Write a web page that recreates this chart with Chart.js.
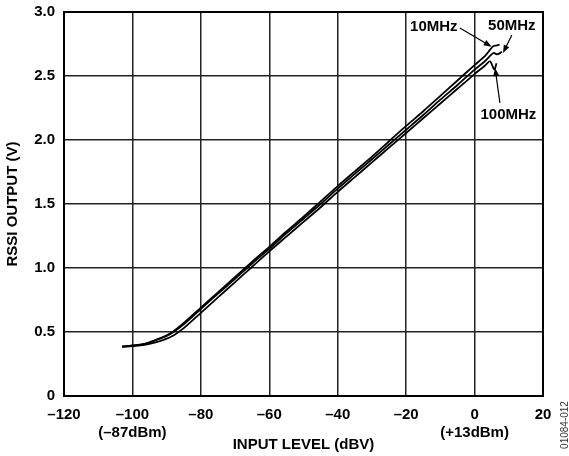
<!DOCTYPE html>
<html>
<head>
<meta charset="utf-8">
<script src="https://cdn.jsdelivr.net/npm/chart.js@4.4.0/dist/chart.umd.min.js"></script>
<style>
    html, body { margin: 0; padding: 0; background: #fff; }
    #wrap { width: 569px; height: 456px; }
</style>
</head>
<body>
<div id="wrap"><canvas id="rssiChart" width="569" height="456"></canvas></div>
<script>
// RSSI output vs input level data
const xTicks = [-120, -100, -80, -60, -40, -20, 0, 20];
const yTicks = [0, 0.5, 1.0, 1.5, 2.0, 2.5, 3.0];
const xTickNotes = { '-100': '(–87dBm)', '0': '(+13dBm)' };

const level10 = [-103, -100, -97, -95, -92, -90, -88, -85, -80, -75, -70, -65, -60, -55, -50, -45, -40, -35, -30, -25, -20, -15, -10, -5, 0, 3, 5.3, 6.3, 7.3];
const rssi10 = [0.385, 0.395, 0.405, 0.42, 0.45, 0.475, 0.505, 0.57, 0.69, 0.81, 0.93, 1.05, 1.165, 1.285, 1.40, 1.52, 1.64, 1.755, 1.87, 1.99, 2.11, 2.225, 2.345, 2.465, 2.585, 2.655, 2.73, 2.738, 2.745];

const level50 = [-103, -100, -97, -95, -92, -90, -88, -85, -80, -75, -70, -65, -60, -55, -50, -45, -40, -35, -30, -25, -20, -15, -10, -5, 0, 3, 5.5, 6.5, 7.2, 8];
const rssi50 = [0.385, 0.394, 0.404, 0.418, 0.448, 0.47, 0.50, 0.56, 0.68, 0.80, 0.915, 1.035, 1.15, 1.27, 1.385, 1.50, 1.62, 1.735, 1.85, 1.965, 2.08, 2.195, 2.315, 2.43, 2.55, 2.615, 2.68, 2.67, 2.675, 2.69];

const level100 = [-103, -100, -97, -95, -92, -90, -88, -85, -80, -75, -70, -65, -60, -55, -50, -45, -40, -35, -30, -25, -20, -15, -10, -5, 0, 3, 4.5, 5.8, 6.4];
const rssi100 = [0.385, 0.39, 0.398, 0.408, 0.428, 0.448, 0.473, 0.53, 0.65, 0.77, 0.89, 1.01, 1.13, 1.245, 1.36, 1.475, 1.595, 1.71, 1.825, 1.94, 2.055, 2.17, 2.285, 2.40, 2.515, 2.58, 2.615, 2.55, 2.60];

// Curve labels with arrows (data units)
const noteLabels = ['10MHz', '50MHz', '100MHz'];
const noteTextAt = [[-11.9, 2.887], [10.9, 2.895], [9.9, 2.195]];
const noteArrowFrom = [[-4.3, 2.875], [10.9, 2.82], [7.4, 2.29]];
const noteArrowTo = [[5.0, 2.729], [8.3, 2.68], [6.0, 2.5625]];

const FONT = "'Liberation Sans', Arial, Helvetica, sans-serif";

function toPoints(xs, ys) {
    return xs.map((x, i) => ({ x: x, y: ys[i] }));
}

function makeSeries(label, xs, ys) {
    return {
        label: label,
        data: toPoints(xs, ys),
        borderColor: '#000',
        borderWidth: 1.8,
        pointRadius: 0,
        tension: 0.25,
        fill: false
    };
}

function fmtX(v) {
    const s = v < 0 ? '–' + Math.abs(v) : String(v);
    const note = xTickNotes[String(v)];
    return note ? [s, note] : s;
}

function drawArrow(ctx, x1, y1, x2, y2) {
    const ang = Math.atan2(y2 - y1, x2 - x1);
    const len = 8, half = 3;
    ctx.beginPath();
    ctx.moveTo(x1, y1);
    ctx.lineTo(x2 - Math.cos(ang) * len * 0.8, y2 - Math.sin(ang) * len * 0.8);
    ctx.stroke();
    ctx.beginPath();
    ctx.moveTo(x2, y2);
    ctx.lineTo(x2 - Math.cos(ang) * len - Math.sin(ang) * half, y2 - Math.sin(ang) * len + Math.cos(ang) * half);
    ctx.lineTo(x2 - Math.cos(ang) * len + Math.sin(ang) * half, y2 - Math.sin(ang) * len - Math.cos(ang) * half);
    ctx.closePath();
    ctx.fill();
}

// Frame, curve labels and figure code
const extrasPlugin = {
    id: 'extras',
    afterDraw(chart) {
        const { ctx, chartArea: a, scales } = chart;
        const sx = scales.x, sy = scales.y;
        ctx.save();
        ctx.strokeStyle = '#000';
        ctx.lineWidth = 2;
        ctx.strokeRect(a.left, a.top, a.right - a.left, a.bottom - a.top);

        ctx.fillStyle = '#000';
        ctx.font = 'bold 15px ' + FONT;
        ctx.textAlign = 'center';
        ctx.textBaseline = 'middle';
        noteLabels.forEach((label, i) => {
            ctx.fillText(label, sx.getPixelForValue(noteTextAt[i][0]), sy.getPixelForValue(noteTextAt[i][1]));
            ctx.lineWidth = 1.2;
            drawArrow(ctx,
                sx.getPixelForValue(noteArrowFrom[i][0]), sy.getPixelForValue(noteArrowFrom[i][1]),
                sx.getPixelForValue(noteArrowTo[i][0]), sy.getPixelForValue(noteArrowTo[i][1]));
        });

        ctx.translate(565, 425);
        ctx.rotate(-Math.PI / 2);
        ctx.font = '10px ' + FONT;
        ctx.fillStyle = '#333';
        ctx.fillText('01084-012', 0, 0);
        ctx.restore();
    }
};

const ctx = document.getElementById('rssiChart');
new Chart(ctx, {
    type: 'line',
    data: {
        datasets: [
            makeSeries('10MHz', level10, rssi10),
            makeSeries('50MHz', level50, rssi50),
            makeSeries('100MHz', level100, rssi100)
        ]
    },
    options: {
        responsive: false,
        animation: false,
        devicePixelRatio: 1,
        layout: { padding: { top: 12, right: 26, left: 0, bottom: 0 } },
        plugins: {
            legend: { display: false },
            tooltip: { enabled: false }
        },
        scales: {
            x: {
                type: 'linear',
                min: -120,
                max: 20,
                afterBuildTicks: s => { s.ticks = xTicks.map(v => ({ value: v })); },
                afterFit: s => { s.height = 60; s.paddingLeft = 0; s.paddingRight = 0; },
                grid: { color: '#222', lineWidth: 1.5, drawTicks: false },
                border: { display: false },
                ticks: {
                    padding: 9,
                    color: '#000',
                    maxRotation: 0,
                    autoSkip: false,
                    font: { family: FONT, size: 15, weight: 'bold', lineHeight: 1.25 },
                    callback: v => fmtX(v)
                },
                title: {
                    display: true,
                    text: 'INPUT LEVEL (dBV)',
                    color: '#000',
                    font: { family: FONT, size: 15, weight: 'bold', lineHeight: 1.2 },
                    padding: { top: 0, bottom: 2 }
                }
            },
            y: {
                type: 'linear',
                min: 0,
                max: 3,
                afterBuildTicks: s => { s.ticks = yTicks.map(v => ({ value: v })); },
                afterFit: s => { s.width = 64; s.paddingTop = 0; s.paddingBottom = 0; },
                grid: { color: '#222', lineWidth: 1.5, drawTicks: false },
                border: { display: false },
                ticks: {
                    padding: 9,
                    color: '#000',
                    font: { family: FONT, size: 15, weight: 'bold' },
                    callback: v => (v === 0 ? '0' : v.toFixed(1))
                },
                title: {
                    display: true,
                    text: 'RSSI OUTPUT (V)',
                    color: '#000',
                    font: { family: FONT, size: 15, weight: 'bold', lineHeight: 1.2 },
                    padding: { top: 4, bottom: 0 }
                }
            }
        }
    },
    plugins: [extrasPlugin]
});
</script>
</body>
</html>
